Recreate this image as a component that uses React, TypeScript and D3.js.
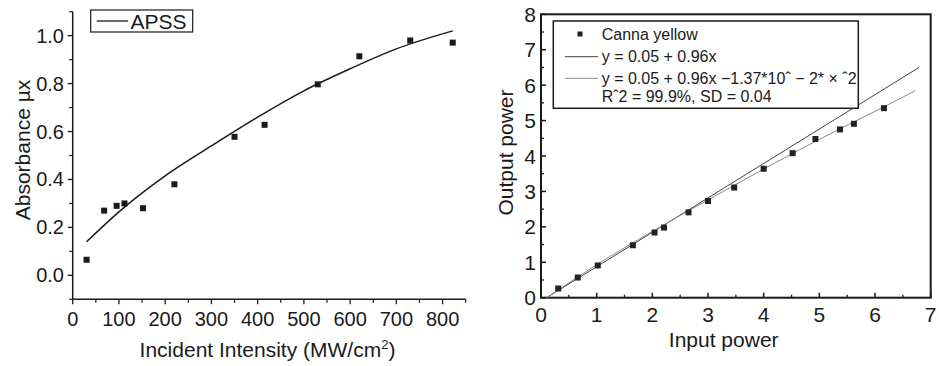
import React from "react";
import * as d3 from "d3";

// ---- Left chart data ----
const apssIntensity = [30, 68, 95, 112, 152, 220, 350, 415, 530, 620, 730, 822];
const apssAbsorbance = [0.065, 0.27, 0.29, 0.30, 0.28, 0.38, 0.578, 0.628, 0.797, 0.914, 0.98, 0.971];
const apssFitX = [30, 100, 200, 300, 400, 500, 600, 700, 822];
const apssFitY = [0.14, 0.265, 0.415, 0.54, 0.66, 0.77, 0.862, 0.945, 1.02];
const leftXTicks = [0, 100, 200, 300, 400, 500, 600, 700, 800];
const leftXMinor = [50, 150, 250, 350, 450, 550, 650, 750, 850];
const leftYTicks = [0.0, 0.2, 0.4, 0.6, 0.8, 1.0];
const leftYMinor = [-0.1, 0.1, 0.3, 0.5, 0.7, 0.9, 1.1];

// ---- Right chart data ----
const inputPower = [0.31, 0.66, 1.02, 1.65, 2.04, 2.21, 2.65, 3.0, 3.47, 4.0, 4.52, 4.93, 5.37, 5.62, 6.16];
const outputPower = [0.26, 0.57, 0.91, 1.48, 1.84, 1.98, 2.41, 2.73, 3.11, 3.64, 4.08, 4.48, 4.75, 4.91, 5.35];
const linearFitX = [0.1, 6.79];
const linearFitY = [0.0, 6.5];
const quadFitX = [0.1, 1, 2, 3, 4, 5, 6, 6.72];
const quadFitY = [0.0, 0.93, 1.87, 2.76, 3.63, 4.47, 5.26, 5.84];
const rightXTicks = [0, 1, 2, 3, 4, 5, 6, 7];
const rightXMinor = [0.5, 1.5, 2.5, 3.5, 4.5, 5.5, 6.5];
const rightYTicks = [0, 1, 2, 3, 4, 5, 6, 7, 8];
const rightYMinor = [0.5, 1.5, 2.5, 3.5, 4.5, 5.5, 6.5, 7.5];

const FONT = "'Liberation Sans', Arial, Helvetica, sans-serif";
const INK = "#1a1a1a";

export default function App() {
  // Left scales
  const lx = d3.scaleLinear().domain([0, 850]).range([72.7, 465.7]);
  const ly = d3.scaleLinear().domain([-0.1, 1.1]).range([299.3, 11.7]);
  const leftFit = d3
    .line<number>()
    .x((d, i) => lx(apssFitX[i]))
    .y((d) => ly(d))
    .curve(d3.curveMonotoneX)(apssFitY) as string;

  // Right scales
  const rx = d3.scaleLinear().domain([0, 7]).range([541, 930.7]);
  const ry = d3.scaleLinear().domain([0, 8]).range([297.7, 14.3]);
  const linPath = d3
    .line<number>()
    .x((d, i) => rx(linearFitX[i]))
    .y((d) => ry(d))(linearFitY) as string;
  const quadPath = d3
    .line<number>()
    .x((d, i) => rx(quadFitX[i]))
    .y((d) => ry(d))
    .curve(d3.curveMonotoneX)(quadFitY) as string;

  const lx0 = lx.range()[0];
  const ly0 = ly.range()[0];
  const rxa = rx.range();
  const rya = ry.range();

  return (
    <svg width={939} height={366} style={{ position: "absolute", left: 0, top: 0, background: "#fff" }} fontFamily={FONT}>
      <rect width={939} height={366} fill="#fff" />
      {/* ===== Left chart ===== */}
      <g>
        {/* axes */}
        <line x1={lx0} x2={lx0} y1={ly.range()[1]} y2={ly0} stroke={INK} strokeWidth={1.5} />
        <line x1={lx0} x2={lx.range()[1]} y1={ly0} y2={ly0} stroke={INK} strokeWidth={1.5} />
        {leftXTicks.map((t) => (
          <g key={"lxt" + t}>
            <line x1={lx(t)} x2={lx(t)} y1={ly0} y2={ly0 + 5} stroke={INK} strokeWidth={1.3} />
            <text x={lx(t)} y={326} fontSize={20} textAnchor="middle" fill={INK}>{t}</text>
          </g>
        ))}
        {leftXMinor.map((t) => (
          <line key={"lxm" + t} x1={lx(t)} x2={lx(t)} y1={ly0} y2={ly0 + 3.5} stroke={INK} strokeWidth={1.2} />
        ))}
        {leftYTicks.map((t) => (
          <g key={"lyt" + t}>
            <line x1={lx0 - 5} x2={lx0} y1={ly(t)} y2={ly(t)} stroke={INK} strokeWidth={1.3} />
            <text x={64} y={ly(t) + 7} fontSize={20} textAnchor="end" fill={INK}>{t.toFixed(1)}</text>
          </g>
        ))}
        {leftYMinor.map((t) => (
          <line key={"lym" + t} x1={lx0 - 3.5} x2={lx0} y1={ly(t)} y2={ly(t)} stroke={INK} strokeWidth={1.2} />
        ))}
        {/* fit curve */}
        <path d={leftFit} fill="none" stroke={INK} strokeWidth={1.5} />
        {/* points */}
        {apssIntensity.map((x, i) => (
          <rect key={"lp" + i} x={lx(x) - 3} y={ly(apssAbsorbance[i]) - 3} width={6} height={6} fill={INK} />
        ))}
        {/* legend */}
        <rect x={90.7} y={10} width={102} height={22} fill="#fff" stroke={INK} strokeWidth={1.2} />
        <line x1={96.7} x2={128} y1={21} y2={21} stroke={INK} strokeWidth={1.3} />
        <text x={130.5} y={28.5} fontSize={21} fill={INK}>APSS</text>
        {/* titles */}
        <text x={267.5} y={356.5} fontSize={21} textAnchor="middle" fill={INK}>
          Incident Intensity (MW/cm<tspan fontSize={13} dy={-8}>2</tspan><tspan dy={8}>)</tspan>
        </text>
        <text transform="translate(30,150) rotate(-90)" fontSize={21} textAnchor="middle" fill={INK}>Absorbance µx</text>
      </g>

      {/* ===== Right chart ===== */}
      <g>
        <rect x={rxa[0]} y={rya[1]} width={rxa[1] - rxa[0]} height={rya[0] - rya[1]} fill="none" stroke={INK} strokeWidth={2} />
        {rightXTicks.map((t) => (
          <g key={"rxt" + t}>
            <line x1={rx(t)} x2={rx(t)} y1={rya[0]} y2={rya[0] - 5} stroke={INK} strokeWidth={1.5} />
            <text x={rx(t)} y={321.7} fontSize={21} textAnchor="middle" fill={INK}>{t}</text>
          </g>
        ))}
        {rightXMinor.map((t) => (
          <line key={"rxm" + t} x1={rx(t)} x2={rx(t)} y1={rya[0]} y2={rya[0] - 3} stroke={INK} strokeWidth={1.3} />
        ))}
        {rightYTicks.map((t) => (
          <g key={"ryt" + t}>
            <line x1={rxa[0]} x2={rxa[0] + 5} y1={ry(t)} y2={ry(t)} stroke={INK} strokeWidth={1.5} />
            <text x={536} y={ry(t) + 7.5} fontSize={21} textAnchor="end" fill={INK}>{t}</text>
          </g>
        ))}
        {rightYMinor.map((t) => (
          <line key={"rym" + t} x1={rxa[0]} x2={rxa[0] + 3} y1={ry(t)} y2={ry(t)} stroke={INK} strokeWidth={1.3} />
        ))}
        {/* fits */}
        <path d={linPath} fill="none" stroke="#444" strokeWidth={1} />
        <path d={quadPath} fill="none" stroke="#8a8a8a" strokeWidth={1} />
        {/* points */}
        {inputPower.map((x, i) => (
          <rect key={"rp" + i} x={rx(x) - 3} y={ry(outputPower[i]) - 3} width={6} height={6} fill="#222" />
        ))}
        {/* legend */}
        <rect x={553.3} y={21} width={305} height={87.3} fill="#fff" stroke={INK} strokeWidth={1.5} />
        <rect x={577.5} y={31.5} width={5} height={5} fill="#222" />
        <text x={601.7} y={40} fontSize={16} fill={INK}>Canna yellow</text>
        <line x1={565} x2={598} y1={56.7} y2={56.7} stroke="#444" strokeWidth={1} />
        <text x={601.7} y={62} fontSize={16} fill={INK}>y = 0.05 + 0.96x</text>
        <line x1={565} x2={598} y1={78.3} y2={78.3} stroke="#8a8a8a" strokeWidth={1} />
        <text x={601.7} y={84} fontSize={16} fill={INK}>y = 0.05 + 0.96x −1.37*10ˆ − 2* × ˆ2</text>
        <text x={601.7} y={102} fontSize={16} fill={INK}>Rˆ2 = 99.9%, SD = 0.04</text>
        {/* titles */}
        <text x={723.7} y={346.7} fontSize={21} textAnchor="middle" fill={INK}>Input power</text>
        <text transform="translate(512.5,152.5) rotate(-90)" fontSize={21} textAnchor="middle" fill={INK}>Output power</text>
      </g>
    </svg>
  );
}
